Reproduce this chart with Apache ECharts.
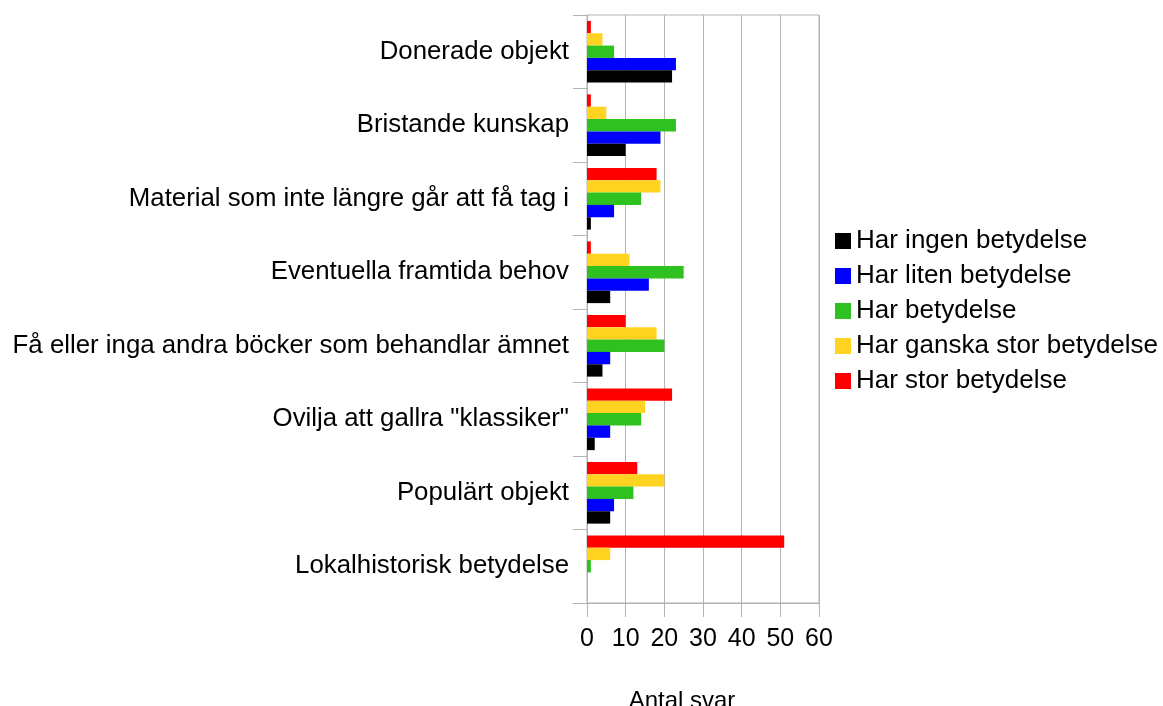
<!DOCTYPE html>
<html>
<head>
<meta charset="UTF-8">
<title>Antal svar</title>
<script src="https://cdn.jsdelivr.net/npm/echarts@6/dist/echarts.min.js"></script>
<style>
  html, body { margin: 0; padding: 0; background: #fff; }
  #main { width: 1163px; height: 706px; }
</style>
</head>
<body>
<div id="main"></div>
<script>
// kategorier nerifrån och upp (echarts ritar första kategorin längst ner)
var categories = [
  'Lokalhistorisk betydelse',
  'Populärt objekt',
  'Ovilja att gallra "klassiker"',
  'Få eller inga andra böcker som behandlar ämnet',
  'Eventuella framtida behov',
  'Material som inte längre går att få tag i',
  'Bristande kunskap',
  'Donerade objekt'
];
var seriesNames = ['Har ingen betydelse', 'Har liten betydelse', 'Har betydelse', 'Har ganska stor betydelse', 'Har stor betydelse'];
var ingen     = [0, 6, 2, 4, 6, 1, 10, 22];
var liten     = [0, 7, 6, 6, 16, 7, 19, 23];
var betydelse = [1, 12, 14, 20, 25, 14, 23, 7];
var ganska    = [6, 20, 15, 18, 11, 19, 5, 4];
var stor      = [51, 13, 22, 10, 1, 18, 1, 1];
var xTicks = [0, 10, 20, 30, 40, 50, 60];

var colors = ['#000000', '#0000ff', '#2ec11f', '#ffd320', '#ff0000'];
var values = [ingen, liten, betydelse, ganska, stor];
var font = '"Liberation Sans", Arial, sans-serif';
var gray = '#b3b3b3';

var chart = echarts.init(document.getElementById('main'));
// första serien hamnar överst i gruppen, så vi lägger till dem baklänges
var series = [];
for (var i = seriesNames.length - 1; i >= 0; i--) {
  series.push({
    name: seriesNames[i],
    type: 'bar',
    data: values[i],
    barGap: '0%',
    barCategoryGap: '16%',
    itemStyle: { color: colors[i] }
  });
}

chart.setOption({
  animation: false,
  textStyle: { fontFamily: font },
  grid: {
    left: 587, right: 344, top: 15, bottom: 103,
    outerBoundsMode: 'none',
    show: true, borderColor: gray, borderWidth: 1
  },
  legend: {
    orient: 'vertical',
    left: 830,
    top: 223,
    icon: 'rect',
    itemWidth: 16,
    itemHeight: 16,
    itemGap: 9,
    textStyle: { fontSize: 26, color: '#000', fontFamily: font },
    data: seriesNames
  },
  xAxis: {
    type: 'value',
    min: xTicks[0],
    max: xTicks[xTicks.length - 1],
    interval: 10,
    name: 'Antal svar',
    nameLocation: 'middle',
    nameGap: 86,
    nameTextStyle: { fontSize: 24, color: '#000', padding: [0, 42, 0, 0] },
    axisLine: { show: true, lineStyle: { color: gray } },
    axisTick: { show: true, length: 14, lineStyle: { color: gray } },
    axisLabel: { fontSize: 25, color: '#000', margin: 24 },
    splitLine: { show: true, lineStyle: { color: gray } }
  },
  yAxis: {
    type: 'category',
    data: categories,
    axisLine: { show: true, lineStyle: { color: gray } },
    axisTick: { show: true, length: 14, lineStyle: { color: gray } },
    axisLabel: { fontSize: 25.8, color: '#000', margin: 18, padding: [5, 0, 0, 0] },
    splitLine: { show: false }
  },
  series: series
});
</script>
</body>
</html>
